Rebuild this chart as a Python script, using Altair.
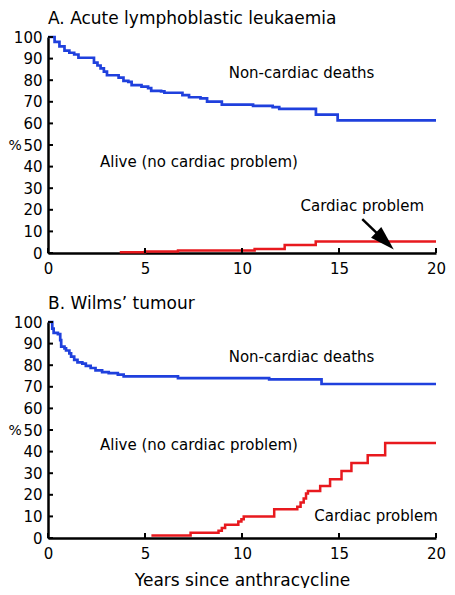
import altair as alt
import pandas as pd

FONT = "DejaVu Sans"

# ---------------- data ----------------
x_ticks = [0, 5, 10, 15, 20]
y_ticks = [0, 10, 20, 30, 40, 50, 60, 70, 80, 90, 100]

# Panel A: Acute lymphoblastic leukaemia
a_noncard_year = [0, 0.34, 0.59, 0.85, 1.10, 1.35, 1.57, 2.37, 2.55, 2.71, 2.88, 3.04, 3.64,
                  3.89, 4.14, 4.31, 4.82, 5.16, 5.32, 5.83, 6.0, 6.93, 7.27, 7.86, 8.2,
                  8.96, 10.57, 11.58, 11.92, 13.81, 14.93, 20]
a_noncard_pct = [100, 97.7, 95.7, 93.7, 92.7, 91.9, 90.4, 88.1, 86.8, 85.5, 84.0, 82.3, 81.2,
                 79.7, 79.2, 77.7, 77.0, 76.3, 75.1, 74.8, 74.2, 73.1, 72.1, 71.6, 70.1,
                 68.7, 68.1, 67.5, 66.7, 64.1, 61.4, 61.4]
a_card_year = [3.7, 5.0, 6.7, 10.65, 12.2, 13.8, 20]
a_card_pct = [0.3, 0.7, 1.2, 1.9, 3.7, 5.3, 5.3]

# Panel B: Wilms' tumour
b_noncard_year = [0, 0.22, 0.29, 0.51, 0.63, 0.68, 0.85, 0.93, 1.1, 1.19, 1.35, 1.52, 1.77,
                  1.95, 2.2, 2.45, 2.79, 3.13, 3.6, 3.9, 6.7, 11.4, 14.1, 20]
b_noncard_pct = [100, 96.9, 95.0, 94.4, 91.6, 88.6, 87.8, 86.8, 85.5, 84.0, 82.5, 81.3, 80.7,
                 79.7, 78.7, 77.6, 76.8, 76.3, 75.6, 74.8, 74.0, 73.4, 71.3, 71.3]
b_card_year = [5.33, 7.35, 8.79, 8.96, 9.13, 9.81, 9.97, 10.09, 11.66, 12.85, 13.02, 13.18,
               13.3, 13.4, 14.03, 14.54, 15.13, 15.64, 16.48, 17.38, 20]
b_card_pct = [1.2, 2.4, 3.4, 4.6, 6.1, 7.6, 8.7, 9.9, 13.3, 14.5, 16.4, 18.3,
              20.6, 21.8, 24.1, 27.2, 31.0, 34.7, 38.3, 44.0, 44.0]

BLUE = "#1f40dd"
RED = "#e8191e"
W, H = 388, 216

x_scale = alt.Scale(domain=[0, 20], nice=False)
y_scale = alt.Scale(domain=[0, 100], nice=False)


def make_axes(xtitle):
    common = dict(grid=False, tickSize=0, domainColor="black", domainWidth=2.5,
                  labelFont=FONT, labelFontSize=15, labelColor="black", labelFlush=False,
                  labelOverlap=False)
    if xtitle:
        xaxis = alt.Axis(values=x_ticks, tickCount=5, labelPadding=8, title=xtitle, titleFont=FONT,
                         titleFontSize=17, titleFontWeight="normal", titleColor="black",
                         titleY=47, titleBaseline="alphabetic", **common)
    else:
        xaxis = alt.Axis(values=x_ticks, tickCount=5, labelPadding=8, title=None, **common)
    yaxis = alt.Axis(values=y_ticks, tickCount=11, labelPadding=6, title="%", titleAngle=0,
                     titleX=-40, titleY=H / 2, titleAlign="left", titleBaseline="middle",
                     titleFont=FONT, titleFontSize=14, titleFontWeight="normal",
                     titleColor="black", **common)
    return xaxis, yaxis


def curve(xs, ys, color, xaxis, yaxis, width):
    df = pd.DataFrame({"year": xs, "pct": ys})
    return alt.Chart(df).mark_line(interpolate="step-after", color=color, strokeWidth=width).encode(
        x=alt.X("year:Q", scale=x_scale, axis=xaxis),
        y=alt.Y("pct:Q", scale=y_scale, axis=yaxis),
    )


def label(text, x, y):
    return alt.Chart(pd.DataFrame({"t": [text]})).mark_text(
        text=text, font=FONT, fontSize=15, color="black", align="center", baseline="middle"
    ).encode(x=alt.datum(x), y=alt.datum(y))


def panel(title, nc, card, texts, xtitle, arrow):
    xaxis, yaxis = make_axes(xtitle)
    layers = [
        curve(nc[0], nc[1], BLUE, xaxis, yaxis, 2.7),
        curve(card[0], card[1], RED, xaxis, yaxis, 2.5),
    ]
    # inward tick marks
    layers.append(alt.Chart(pd.DataFrame({"pct": y_ticks})).mark_rule(color="black", strokeWidth=2).encode(
        y=alt.Y("pct:Q", scale=y_scale, axis=yaxis), x=alt.value(0), x2=alt.value(5)))
    layers.append(alt.Chart(pd.DataFrame({"year": x_ticks})).mark_rule(color="black", strokeWidth=2).encode(
        x=alt.X("year:Q", scale=x_scale, axis=xaxis), y=alt.value(H), y2=alt.value(H - 5)))
    for t, x, y in texts:
        layers.append(label(t, x, y))
    # panel title as a text mark above the plot area
    layers.append(alt.Chart(pd.DataFrame({"t": [title]})).mark_text(
        text=title, font=FONT, fontSize=17, color="black", align="left", baseline="top"
    ).encode(x=alt.value(0), y=alt.value(-26)))
    if arrow:
        (x1, y1), (x2, y2) = arrow
        one = pd.DataFrame({"a": [0]})
        layers.append(alt.Chart(one).mark_rule(color="black", strokeWidth=2.5).encode(
            x=alt.datum(x1), y=alt.datum(y1), x2=alt.datum(x2), y2=alt.datum(y2)))
        layers.append(alt.Chart(one).mark_point(
            shape="M0,-1L0.6,1L-0.6,1Z", size=600, angle=134, filled=True,
            color="black", opacity=1, strokeWidth=0).encode(x=alt.datum(x2), y=alt.datum(y2)))
    return alt.layer(*layers).properties(width=W, height=H)


panel_a = panel(
    "A. Acute lymphoblastic leukaemia",
    (a_noncard_year, a_noncard_pct),
    (a_card_year, a_card_pct),
    [("Non-cardiac deaths", 13.07, 83.3),
     ("Alive (no cardiac problem)", 7.78, 42.3),
     ("Cardiac problem", 16.2, 21.7)],
    None,
    ((16.2, 15.7), (17.37, 5.6)),
)

panel_b = panel(
    "B. Wilms\u2019 tumour",
    (b_noncard_year, b_noncard_pct),
    (b_card_year, b_card_pct),
    [("Non-cardiac deaths", 13.07, 84.0),
     ("Alive (no cardiac problem)", 7.78, 43.1),
     ("Cardiac problem", 16.91, 10.2)],
    "Years since anthracycline",
    None,
)

chart = alt.vconcat(panel_a, panel_b, spacing=19).properties(
    padding={"top": 2, "left": 0, "right": 0, "bottom": 0}
).configure(font=FONT).configure_axis(labelOverlap=False).configure_view(strokeWidth=0)

chart.save("out.html", embed_options={"renderer": "svg", "actions": False})
